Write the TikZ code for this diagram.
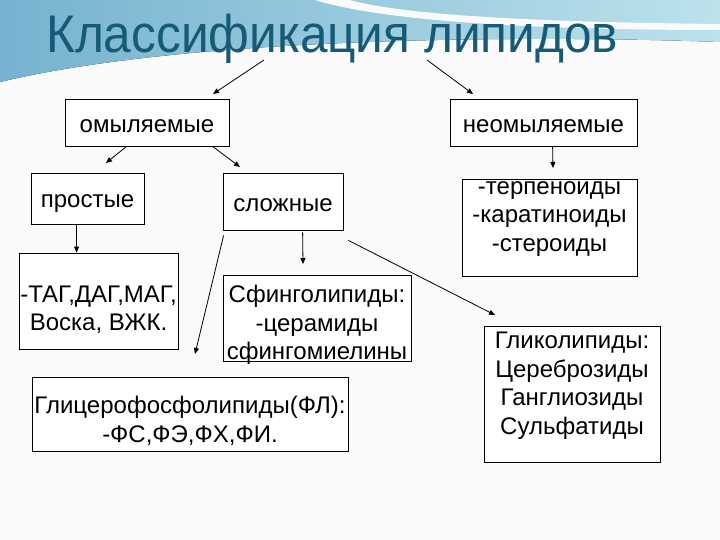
\documentclass[tikz,border=0pt]{standalone}
\usepackage{fontspec}
\setmainfont{Liberation Sans}
\usetikzlibrary{arrows.meta,positioning}
\definecolor{titleblue}{RGB}{22,90,118}
\definecolor{swooshl}{RGB}{118,178,208}
\definecolor{swooshr}{RGB}{188,226,236}
\definecolor{paper}{RGB}{250,250,250}

\begin{document}
\begin{tikzpicture}[x=1pt,y=-1pt,
  box/.style={draw,line width=0.8pt,inner sep=0pt,fill=white},
  txt/.style={align=center,inner sep=0pt,font=\fontsize{24}{28.5}\selectfont},
  arr/.style={-{Triangle[length=6pt,width=5pt]},line width=0.8pt}
]

\useasboundingbox[fill=paper] (0,0) rectangle (720,540);

% background band
\fill[left color=swooshl,right color=swooshr] (0,0) -- (720,0) -- (720,42)
  .. controls (560,36) and (200,34) .. (0,82) -- cycle;
\fill[paper] (315,0) -- (350,0) .. controls (400,14) and (520,22) .. (720,24) -- (720,30)
  .. controls (520,30) and (380,20) .. (315,0) -- cycle;

\node[font=\fontsize{53}{60}\selectfont,text=titleblue,anchor=base west,inner sep=0pt] (title) at (46,53) {\scalebox{0.935}[1]{Классификация липидов}};

\node[box,minimum width=164,minimum height=47,label={[txt,yshift=-4pt]center:омыляемые}] (omyl) at (147,122.5) {};
\node[box,minimum width=187,minimum height=47,label={[txt,yshift=-4pt]center:неомыляемые}] (neomyl) at (543.5,122.5) {};

\node[box,minimum width=113,minimum height=51,label={[txt,yshift=-5pt]center:простые}] (prost) at (87.5,198.5) {};
\node[box,minimum width=120,minimum height=57,label={[txt,yshift=-4pt]center:сложные}] (slozh) at (283,201.5) {};

\node[box,minimum width=159,minimum height=96,label={[txt,yshift=-9pt]center:-ТАГ,ДАГ,МАГ,\\Воска, ВЖК.}] (tag) at (98.5,301) {};
\node[box,minimum width=188,minimum height=86,label={[txt,yshift=-7pt]center:Сфинголипиды:\\-церамиды\\сфингомиелины}] (sfingo) at (317,318) {};
\node[box,minimum width=316,minimum height=74,label={[txt,yshift=-7pt]center:Глицерофосфолипиды(ФЛ):\\-ФС,ФЭ,ФХ,ФИ.}] (glicero) at (190,414) {};

\node[box,minimum width=175,minimum height=97,label={[txt,yshift=8.5pt]center:-терпеноиды\\-каратиноиды\\-стероиды}] (terpen) at (549.5,227.5) {};
\node[box,minimum width=176,minimum height=136,label={[txt,yshift=8.5pt]center:Гликолипиды:\\Цереброзиды\\Ганглиозиды\\Сульфатиды}] (gliko) at (572,394) {};

% free ends
\coordinate (t1) at (264,60);
\coordinate (t2) at (427,60);
\coordinate (e1) at (213,94);
\coordinate (e2) at (473,94);
\coordinate (e3) at (106,163);
\coordinate (e4) at (240,167);
\coordinate (e5) at (553,168);
\coordinate (e6) at (303,264);
\coordinate (e7) at (195,354);
\coordinate (e8) at (495,315);

\draw[arr] (t1) -- (e1);
\draw[arr] (t2) -- (e2);
\draw[arr] ([xshift=62pt]omyl.south west) -- (e3);
\draw[arr] ([xshift=148pt]omyl.south west) -- (e4);
\draw[arr] ([xshift=103pt]neomyl.south west) -- (e5);
\draw[arr] ([xshift=46pt]prost.south west) -- ([xshift=58pt]tag.north west);
\draw[arr] ([xshift=80pt,yshift=-2pt]slozh.south west) -- (e6);
\draw[arr] ([xshift=1pt,yshift=-5pt]slozh.south west) -- (e7);
\draw[arr] ([xshift=5pt,yshift=-10pt]slozh.south east) -- (e8);

\end{tikzpicture}
\end{document}
